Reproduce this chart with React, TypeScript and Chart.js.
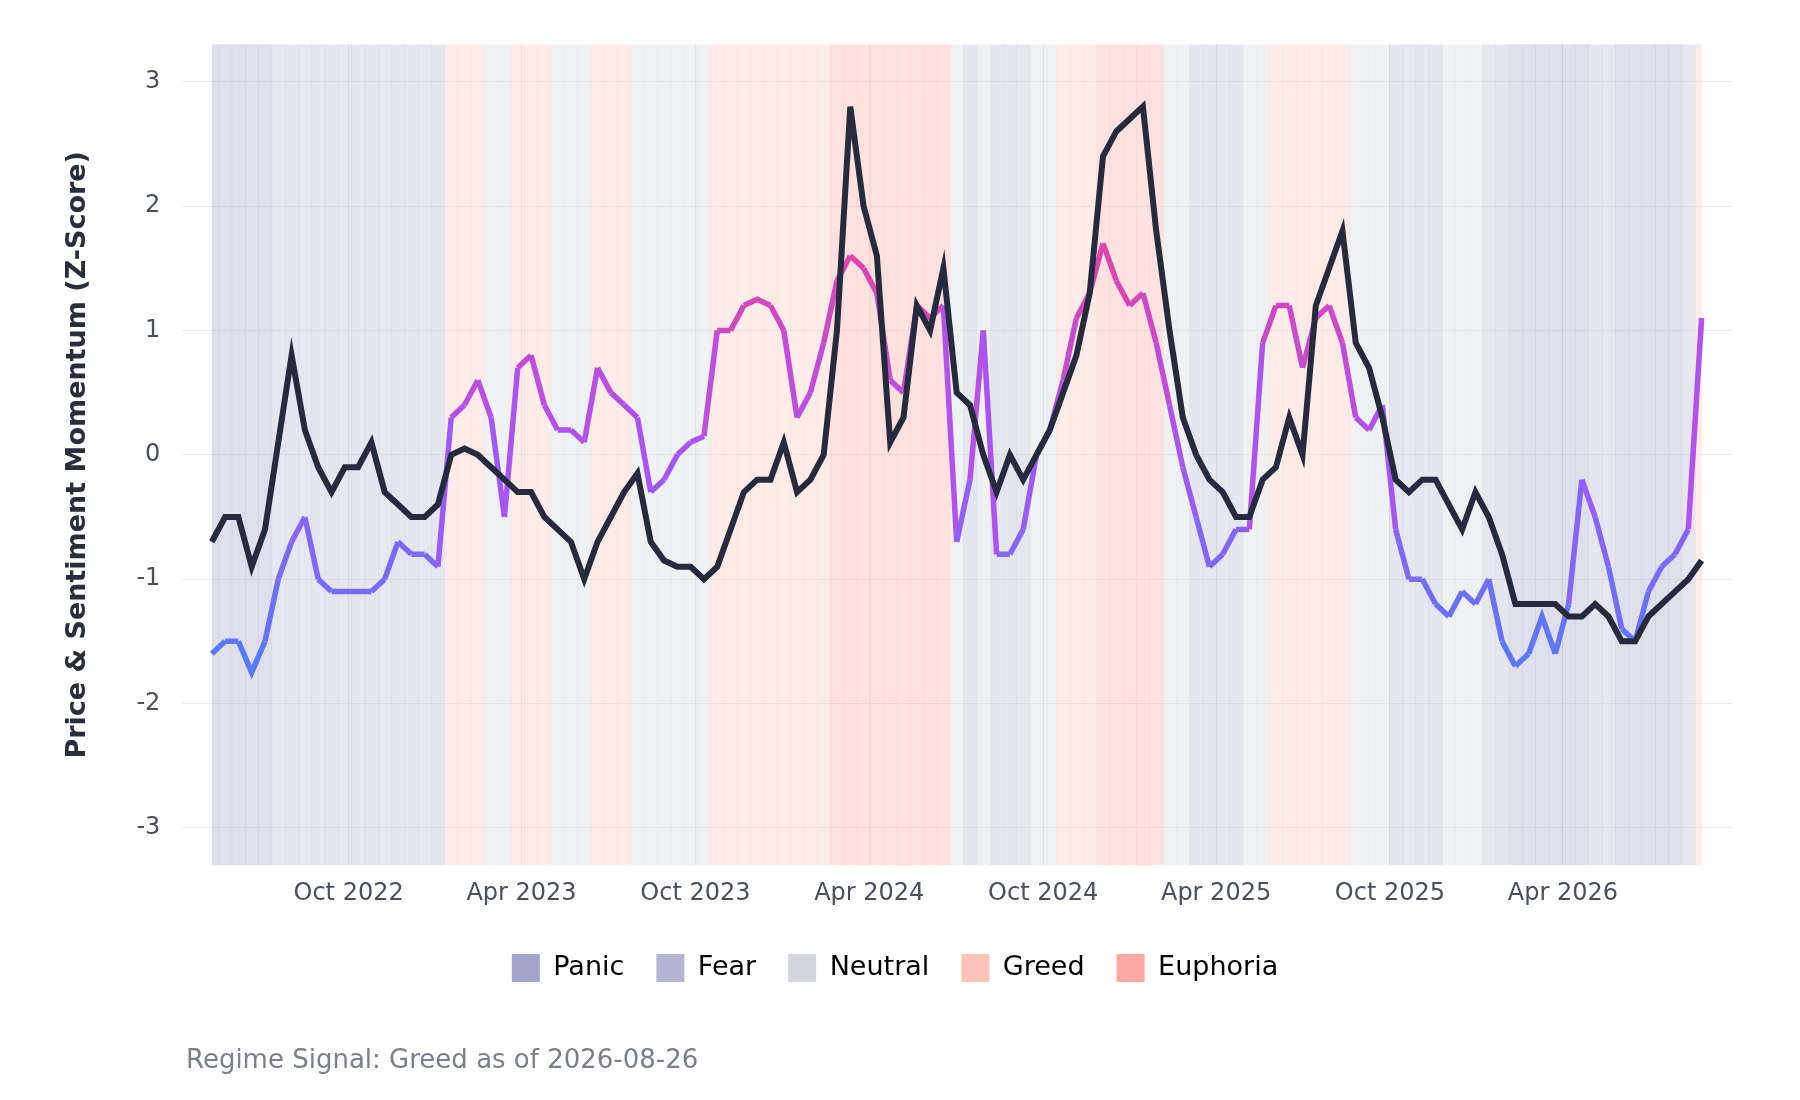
import React, { useEffect, useRef } from "react";
import { Chart, registerables } from "chart.js";
Chart.register(...registerables);

const START = Date.UTC(2022, 4, 10);
const STEP_DAYS = 14;

const priceValues = [
  -0.7, -0.5, -0.5, -0.9, -0.6, 0.1, 0.8, 0.2, -0.1, -0.3, -0.1, -0.1, 0.1, -0.3, -0.4, -0.5, -0.5, -0.4,
  0.0, 0.05, 0.0, -0.1, -0.2, -0.3, -0.3, -0.5, -0.6, -0.7, -1.0, -0.7, -0.5, -0.3, -0.15, -0.7, -0.85,
  -0.9, -0.9, -1.0, -0.9, -0.6, -0.3, -0.2, -0.2, 0.1, -0.3, -0.2, 0.0, 1.0, 2.8, 2.0, 1.6, 0.1, 0.3, 1.2,
  1.0, 1.5, 0.5, 0.4, 0.0, -0.3, 0.0, -0.2, 0.0, 0.2, 0.5, 0.8, 1.3, 2.4, 2.6, 2.7, 2.8, 1.8, 1.0, 0.3,
  0.0, -0.2, -0.3, -0.5, -0.5, -0.2, -0.1, 0.3, 0.0, 1.2, 1.5, 1.8, 0.9, 0.7, 0.3, -0.2, -0.3, -0.2, -0.2,
  -0.4, -0.6, -0.3, -0.5, -0.8, -1.2, -1.2, -1.2, -1.2, -1.3, -1.3, -1.2, -1.3, -1.5, -1.5, -1.3, -1.2,
  -1.1, -1.0, -0.85,
];

const sentimentValues = [
  -1.6, -1.5, -1.5, -1.75, -1.5, -1.0, -0.7, -0.5, -1.0, -1.1, -1.1, -1.1, -1.1, -1.0, -0.7, -0.8, -0.8,
  -0.9, 0.3, 0.4, 0.6, 0.3, -0.5, 0.7, 0.8, 0.4, 0.2, 0.2, 0.1, 0.7, 0.5, 0.4, 0.3, -0.3, -0.2, 0.0, 0.1,
  0.15, 1.0, 1.0, 1.2, 1.25, 1.2, 1.0, 0.3, 0.5, 0.9, 1.4, 1.6, 1.5, 1.3, 0.6, 0.5, 1.2, 1.1, 1.2, -0.7,
  -0.2, 1.0, -0.8, -0.8, -0.6, 0.0, 0.2, 0.6, 1.1, 1.3, 1.7, 1.4, 1.2, 1.3, 0.9, 0.4, -0.1, -0.5, -0.9,
  -0.8, -0.6, -0.6, 0.9, 1.2, 1.2, 0.7, 1.1, 1.2, 0.9, 0.3, 0.2, 0.4, -0.6, -1.0, -1.0, -1.2, -1.3, -1.1,
  -1.2, -1.0, -1.5, -1.7, -1.6, -1.3, -1.6, -1.2, -0.2, -0.5, -0.9, -1.4, -1.5, -1.1, -0.9, -0.8, -0.6,
  1.1,
];

const regimeSegments = [
  "Panic", "Panic", "Panic", "Panic", "Panic",
  "Fear", "Fear", "Fear", "Fear", "Fear", "Fear", "Fear", "Fear", "Fear", "Fear", "Fear", "Fear", "Fear",
  "Greed", "Greed", "Greed", "Neutral", "Neutral", "Greed", "Greed", "Greed", "Neutral", "Neutral", "Neutral",
  "Greed", "Greed", "Greed", "Neutral", "Neutral", "Neutral", "Neutral", "Neutral", "Neutral",
  "Greed", "Greed", "Greed", "Greed", "Greed", "Greed", "Greed", "Greed", "Greed",
  "Euphoria", "Euphoria", "Euphoria", "Euphoria", "Euphoria", "Euphoria", "Euphoria", "Euphoria", "Euphoria",
  "Neutral", "Fear", "Neutral", "Fear", "Fear", "Fear", "Neutral", "Neutral",
  "Greed", "Greed", "Greed", "Euphoria", "Euphoria", "Euphoria", "Euphoria", "Euphoria",
  "Neutral", "Neutral", "Fear", "Fear", "Fear", "Fear", "Neutral", "Neutral",
  "Greed", "Greed", "Greed", "Greed", "Greed", "Greed", "Neutral", "Neutral", "Neutral",
  "Fear", "Fear", "Fear", "Fear", "Neutral", "Neutral", "Neutral", "Fear", "Fear",
  "Panic", "Panic", "Panic", "Panic", "Panic", "Panic", "Fear", "Fear",
  "Panic", "Panic", "Panic", "Panic", "Panic", "Fear", "Greed",
];

const regimeNames = ["Panic", "Fear", "Neutral", "Greed", "Euphoria"];
const regimeColors: Record<string, string> = {
  Panic: "rgba(158,158,200,0.85)",
  Fear: "rgba(178,178,210,0.85)",
  Neutral: "rgba(208,211,216,0.85)",
  Greed: "rgba(255,192,180,0.85)",
  Euphoria: "rgba(255,165,160,0.85)",
};
const bandAlpha = 0.38;

const tickMonths: [number, number, string][] = [
  [2022, 9, "Oct 2022"], [2023, 3, "Apr 2023"], [2023, 9, "Oct 2023"], [2024, 3, "Apr 2024"],
  [2024, 9, "Oct 2024"], [2025, 3, "Apr 2025"], [2025, 9, "Oct 2025"], [2026, 3, "Apr 2026"],
];
const dayOf = (y: number, m: number) => (Date.UTC(y, m, 1) - START) / 86400000;
const tickMap = new Map<number, string>(tickMonths.map(([y, m, l]) => [dayOf(y, m), l]));

function sentColor(v: number) {
  const stops = [
    [-2, [70, 130, 255]],
    [0, [168, 85, 247]],
    [2, [236, 64, 150]],
  ] as [number, number[]][];
  const t = Math.max(-2, Math.min(2, v));
  const [a, b] = t <= 0 ? [stops[0], stops[1]] : [stops[1], stops[2]];
  const f = (t - a[0]) / (b[0] - a[0]);
  const c = a[1].map((x, i) => Math.round(x + (b[1][i] - x) * f));
  return `rgb(${c[0]},${c[1]},${c[2]})`;
}

const bandPlugin = {
  id: "bands",
  beforeDatasetsDraw(chart: any) {
    const { ctx, chartArea, scales } = chart;
    ctx.save();
    ctx.globalAlpha = bandAlpha;
    regimeSegments.forEach((r, i) => {
      const x0 = scales.x.getPixelForValue(Math.max(0, i * STEP_DAYS - STEP_DAYS / 2));
      const x1 = scales.x.getPixelForValue(Math.min((regimeSegments.length - 1) * STEP_DAYS, i * STEP_DAYS + STEP_DAYS / 2));
      ctx.fillStyle = regimeColors[r];
      ctx.fillRect(x0, chartArea.top, x1 - x0 + 0.5, chartArea.bottom - chartArea.top);
    });
    ctx.restore();
  },
};

export default function App() {
  const ref = useRef<HTMLCanvasElement>(null);
  useEffect(() => {
    const font = "'DejaVu Sans', sans-serif";
    const chart = new Chart(ref.current!, {
      type: "line",
      data: {
        datasets: [
          {
            label: "Sentiment",
            data: sentimentValues.map((v, i) => ({ x: i * STEP_DAYS, y: v })),
            borderWidth: 5.5,
            pointRadius: 0,
            tension: 0,
            segment: {
              borderColor: (c: any) => sentColor((c.p0.parsed.y + c.p1.parsed.y) / 2),
            },
            order: 2,
          },
          {
            label: "Price",
            data: priceValues.map((v, i) => ({ x: i * STEP_DAYS, y: v })),
            borderColor: "#262a3d",
            borderWidth: 6,
            pointRadius: 0,
            tension: 0,
            order: 1,
          },
        ],
      },
      options: {
        animation: false,
        responsive: false,
        layout: { padding: { left: 50, right: 60, top: 34, bottom: 100 } },
        scales: {
          x: {
            type: "linear",
            min: -31,
            max: 1600,
            grid: { color: "rgba(0,0,0,0.08)", drawTicks: false },
            border: { display: false },
            afterBuildTicks: (ax: any) => {
              ax.ticks = [...tickMap.keys()].map((v) => ({ value: v }));
            },
            ticks: {
              color: "#4a4f5c",
              font: { family: font, size: 24 },
              padding: 14,
              maxRotation: 0,
              autoSkip: false,
              callback: (v: any) => tickMap.get(v) ?? "",
            },
          },
          y: {
            min: -3.3,
            max: 3.3,
            grid: { color: "rgba(0,0,0,0.08)", drawTicks: false },
            border: { display: false },
            afterBuildTicks: (ax: any) => {
              ax.ticks = [-3, -2, -1, 0, 1, 2, 3].map((v) => ({ value: v }));
            },
            ticks: { color: "#4a4f5c", font: { family: font, size: 24 }, padding: 22 },
            title: {
              display: true,
              text: "Price & Sentiment Momentum (Z-Score)",
              color: "#2a2e3a",
              font: { family: font, size: 27, weight: "bold" },
              padding: { bottom: 20 },
            },
          },
        },
        plugins: {
          legend: {
            position: "bottom",
            labels: {
              font: { family: font, size: 27 },
              color: "#222",
              boxWidth: 28,
              boxHeight: 28,
              padding: 32,
              generateLabels: () =>
                regimeNames.map((n) => ({
                  text: n,
                  fillStyle: regimeColors[n].replace("0.85", "0.95"),
                  strokeStyle: "transparent",
                  lineWidth: 0,
                  hidden: false,
                  datasetIndex: 0,
                })),
            },
            onClick: () => {},
          },
          tooltip: { enabled: false },
        },
      },
      plugins: [bandPlugin],
    });
    return () => chart.destroy();
  }, []);
  return (
    <div style={{ position: "relative", width: 1784, height: 1084, background: "#fff" }}>
      <canvas ref={ref} width={1784} height={1084} />
      <div
        style={{
          position: "absolute",
          left: 178,
          top: 1036,
          fontFamily: "'DejaVu Sans', sans-serif",
          fontSize: 26,
          color: "#7a7f8a",
        }}
      >
        Regime Signal: Greed as of 2026-08-26
      </div>
    </div>
  );
}
